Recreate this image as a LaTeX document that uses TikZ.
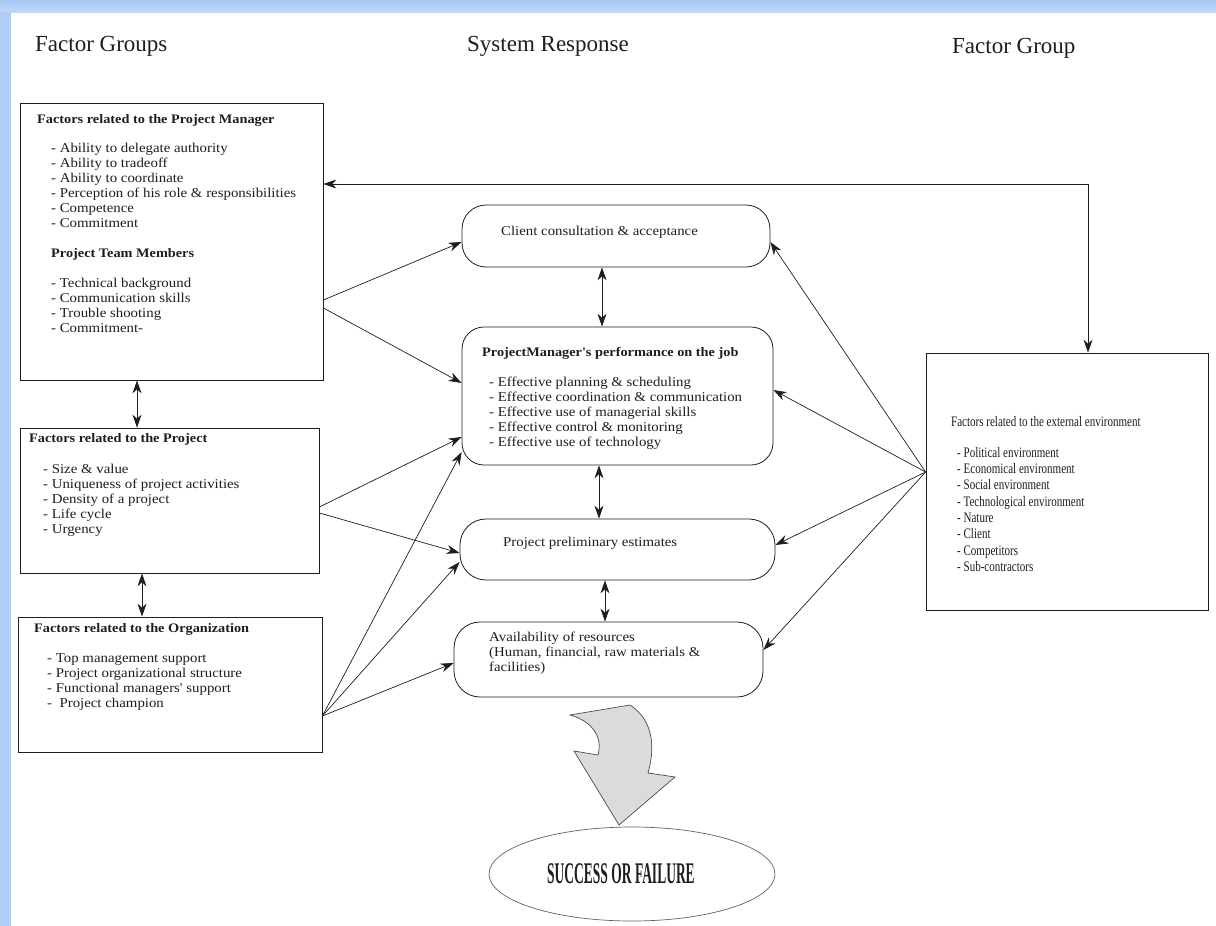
\documentclass[tikz,border=0pt]{standalone}
\usepackage{fontspec}
\setmainfont{Liberation Serif}
\newfontfamily\bodyf[FakeStretch=1.1]{Liberation Serif}
\newfontfamily\envf[FakeStretch=0.76]{Liberation Serif}
\newfontfamily\outf[FakeStretch=0.45]{Liberation Serif}
\usetikzlibrary{arrows.meta,shapes.geometric,calc}
\definecolor{frameblue}{RGB}{166,200,242}
\definecolor{frameblueL}{RGB}{192,216,247}
\definecolor{ink}{RGB}{30,30,30}

\begin{document}
\begin{tikzpicture}[x=1pt,y=-1pt,
  >={Stealth[length=13pt,width=9pt]},
  factorbox/.style={draw=ink, line width=0.8pt, inner sep=0pt, rectangle},
  respbox/.style={draw=ink, line width=0.8pt, inner sep=0pt, rectangle, rounded corners=#1},
  respbox/.default=24pt,
  link/.style={draw=ink, line width=0.7pt, ->},
  both/.style={draw=ink, line width=0.8pt, <->},
  body/.style={font=\bodyf\fontsize{13.5}{15}\selectfont, inner sep=0pt, align=left, text=ink},
  head/.style={font=\bodyf\bfseries\fontsize{13}{15}\selectfont, inner sep=0pt, text=ink},
  envtext/.style={font=\envf\fontsize{14.5}{16.3}\selectfont, inner sep=0pt, align=left, text=ink},
  colhead/.style={font=\fontsize{23}{27}\selectfont, inner sep=0pt, text=ink}
]
\useasboundingbox (0,0) rectangle (1216,926);
\fill[white] (0,0) rectangle (1216,926);
% window frame
\shade[top color=frameblue, bottom color=frameblueL] (0,0) rectangle (1216,12);
\fill[frameblue!90] (0,12) rectangle (11,926);

% column headings
\node[colhead, anchor=base west] (hleft) at (35,51) {Factor Groups};
\node[colhead, anchor=base west] (hmid) at (467,51) {System Response};
\node[colhead, anchor=base west] (hright) at (952,53) {Factor Group};

% left factor boxes
\node[factorbox, minimum width=303pt, minimum height=277pt] (pmbox) at (171.5,241.5) {};
\node[head, anchor=base west] (pmtitle) at (37,123.5) {Factors related to the Project Manager};
\node[body, anchor=north west] (pmlist) at (51,143) {- Ability to delegate authority\\- Ability to tradeoff\\- Ability to coordinate\\- Perception of his role \& responsibilities\\- Competence\\- Commitment\\[15pt]{\bfseries\fontsize{13}{15}\selectfont Project Team Members}\\[15pt]- Technical background\\- Communication skills\\- Trouble shooting\\- Commitment-};

\node[factorbox, minimum width=299pt, minimum height=145pt] (projbox) at (169.5,500.5) {};
\node[head, anchor=base west] (projtitle) at (29,442.5) {Factors related to the Project};
\node[body, anchor=north west] (projlist) at (43,464) {- Size \& value\\- Uniqueness of project activities\\- Density of a project\\- Life cycle\\- Urgency};

\node[factorbox, minimum width=304pt, minimum height=135pt] (orgbox) at (170,684.5) {};
\node[head, anchor=base west] (orgtitle) at (34,632.5) {Factors related to the Organization};
\node[body, anchor=north west] (orglist) at (47,653) {- Top management support\\- Project organizational structure\\- Functional managers' support\\-\ \ Project champion};

% system response boxes
\node[respbox=24pt, minimum width=308pt, minimum height=62pt] (client) at (616,236) {};
\node[body, anchor=base west] (clienttext) at (501,235.5) {Client consultation \& acceptance};

\node[respbox=22pt, minimum width=311pt, minimum height=138pt] (perf) at (617.5,396) {};
\node[head, anchor=base west] (perftitle) at (482,356.5) {ProjectManager's performance on the job};
\node[body, anchor=north west] (perflist) at (489,377) {- Effective planning \& scheduling\\- Effective coordination \& communication\\- Effective use of managerial skills\\- Effective control \& monitoring\\- Effective use of technology};

\node[respbox=26pt, minimum width=315pt, minimum height=61pt] (prelim) at (617.5,549.5) {};
\node[body, anchor=base west] (prelimtext) at (503,546.5) {Project preliminary estimates};

\node[respbox=26pt, minimum width=309pt, minimum height=75pt] (avail) at (608.5,659.5) {};
\node[body, anchor=north west] (availtext) at (489,632) {Availability of resources\\(Human, financial, raw materials \&\\facilities)};

% external environment box
\node[factorbox, minimum width=282pt, minimum height=257pt] (ext) at (1067,481.5) {};
\node[envtext, anchor=base west] (exttitle) at (951,426) {Factors related to the external environment};
\node[envtext, anchor=north west] (extlist) at (957,447) {- Political environment\\- Economical environment\\- Social environment\\- Technological environment\\- Nature\\- Client\\- Competitors\\- Sub-contractors};

% outcome
\node[draw=ink!70, ellipse, minimum width=286pt, minimum height=94pt, inner sep=0pt, line width=0.7pt] (outcome) at (632,874) {};
\node[font=\outf\bfseries\fontsize{30}{32}\selectfont, inner sep=0pt, text=ink] (outtext) at (621,874) {SUCCESS OR FAILURE};

% curved block arrow towards the outcome
\filldraw[fill=gray!28, draw=ink!80, line width=0.7pt]
  (570,715) -- (630,705) .. controls (656,722) and (654,752) .. (648,773)
  -- (675,777) -- (619,825) -- (574,751) -- (598,755)
  .. controls (603,737) and (592,721) .. (570,715) -- cycle;

% links between the left factor boxes
\draw[both] ([xshift=-34.5pt]pmbox.south) -- ([xshift=-32.5pt]projbox.north);
\draw[both] ([xshift=-27.5pt]projbox.south) -- ([xshift=-28pt]orgbox.north);

% links between the system response boxes
\draw[both] ([xshift=-14pt]client.south) -- ([xshift=-15.5pt]perf.north);
\draw[both] ([xshift=-18.5pt]perf.south) -- ([xshift=-18.5pt]prelim.north);
\draw[both] ([xshift=-12.5pt]prelim.south) -- ([xshift=-3.5pt]avail.north);

% project manager <-> external environment
\draw[both] ([yshift=57.5pt]pmbox.east) -| ([xshift=21pt]ext.north);

% left fans
\draw[link] ([yshift=-58.5pt]pmbox.east) -- ([yshift=-6pt]client.west);
\draw[link] ([yshift=-66.5pt]pmbox.east) -- ([yshift=13pt]perf.west);
\draw[link] ([yshift=-6.5pt]projbox.east) -- ([yshift=-41pt]perf.west);
\draw[link] ([yshift=-12.5pt]projbox.east) -- ([yshift=-3.5pt]prelim.west);
\coordinate (orgfan) at ([yshift=-31.5pt]orgbox.east);
\draw[link] (orgfan) -- ([yshift=-56pt]perf.west);
\draw[link] (orgfan) -- ([yshift=-12.5pt]prelim.west);
\draw[link] (orgfan) -- ([yshift=-3.5pt]avail.west);

% right fan
\coordinate (extfan) at ([yshift=9.5pt]ext.west);
\draw[link] (extfan) -- ([yshift=-6pt]client.east);
\draw[link] (extfan) -- ([yshift=6pt]perf.east);
\draw[link] (extfan) -- ([yshift=4.5pt]prelim.east);
\draw[link] (extfan) -- ([yshift=9.5pt]avail.east);
\end{tikzpicture}
\end{document}
